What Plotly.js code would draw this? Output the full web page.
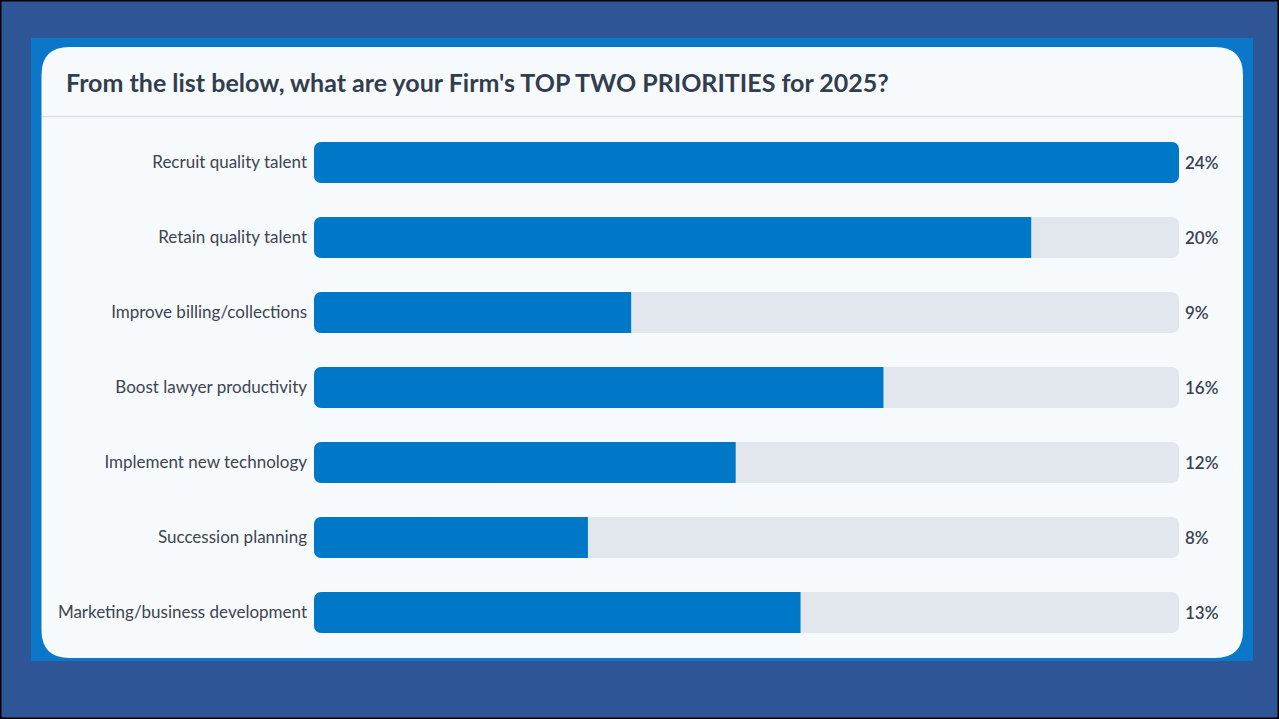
<!DOCTYPE html>
<html>
<head>
<meta charset="utf-8">
<script src="https://cdn.plot.ly/plotly-3.0.1.min.js"></script>
<style>
html,body{margin:0;padding:0;background:#2E5596;}
#chart{width:1279px;height:719px;}
</style>
</head>
<body>
<div id="chart"></div>
<script>
// Data
const categories = [
  "Recruit quality talent",
  "Retain quality talent",
  "Improve billing/collections",
  "Boost lawyer productivity",
  "Implement new technology",
  "Succession planning",
  "Marketing/business development"
];
const values = [24, 19.9, 8.8, 15.8, 11.7, 7.6, 13.5];      // bar lengths (%)
const valueLabels = ["24%", "20%", "9%", "16%", "12%", "8%", "13%"];
const scaleMax = 24;
const titleText = "From the list below, what are your Firm's TOP TWO PRIORITIES for 2025?";

const W = 1279, H = 719;
const px = x => x / W;
const py = y => 1 - y / H;

function roundedRect(x0, y0, x1, y1, r) {
  const X = px, Y = py;
  return `M ${X(x0 + r)} ${Y(y0)} L ${X(x1 - r)} ${Y(y0)} Q ${X(x1)} ${Y(y0)} ${X(x1)} ${Y(y0 + r)} ` +
         `L ${X(x1)} ${Y(y1 - r)} Q ${X(x1)} ${Y(y1)} ${X(x1 - r)} ${Y(y1)} ` +
         `L ${X(x0 + r)} ${Y(y1)} Q ${X(x0)} ${Y(y1)} ${X(x0)} ${Y(y1 - r)} ` +
         `L ${X(x0)} ${Y(y0 + r)} Q ${X(x0)} ${Y(y0)} ${X(x0 + r)} ${Y(y0)} Z`;
}

const FONT = "Lato, 'Open Sans', sans-serif";
const GRAY = "#E2E7EE", BLUE = "#0078C8";
const BW = 41 / 75, R = 7;

// Each bar is drawn as two overlapping halves so both ends can be rounded
// (Plotly rounds only the end away from the base).
function leftHalf(vals, color) {
  return {
    type: "bar", orientation: "h", y: categories,
    base: vals.map(v => v * 0.6), x: vals.map(v => -v * 0.6),
    marker: {color: color, cornerradius: R, line: {width: 0}}, width: BW,
    hoverinfo: "skip", showlegend: false
  };
}
function rightHalf(vals, color, rounded) {
  return {
    type: "bar", orientation: "h", y: categories,
    base: vals.map(v => v * 0.4), x: vals.map(v => v * 0.6),
    marker: {color: color, cornerradius: rounded ? R : 0, line: {width: 0}}, width: BW,
    hoverinfo: "skip", showlegend: false
  };
}
const fullVals = categories.map(() => scaleMax);
const isFull = values.map(v => v >= scaleMax);
const traces = [
  leftHalf(fullVals, GRAY),
  rightHalf(fullVals, GRAY, true),
  leftHalf(values, BLUE),
  rightHalf(values.map((v, i) => isFull[i] ? 0 : v), BLUE, false),
  rightHalf(values.map((v, i) => isFull[i] ? v : 0), BLUE, true)
];

const annotations = categories.map((c, i) => ({
  x: scaleMax, y: c, xref: "x", yref: "y",
  text: valueLabels[i], showarrow: false,
  xanchor: "left", xshift: 4,
  font: {family: FONT, size: 17, color: "#3A4250", weight: 600}
}));
annotations.push({
  x: px(64), y: py(82), xref: "paper", yref: "paper",
  xanchor: "left", yanchor: "middle", showarrow: false,
  text: titleText,
  font: {family: FONT, size: 25, color: "#323D4D", weight: 700}
});

const layout = {
  width: W, height: H,
  margin: {l: 0, r: 0, t: 0, b: 0},
  paper_bgcolor: "#2E5596",
  plot_bgcolor: "rgba(0,0,0,0)",
  barmode: "overlay",
  showlegend: false,
  xaxis: {
    domain: [px(314), px(1179)],
    range: [0, scaleMax],
    showgrid: false, zeroline: false, showticklabels: false, fixedrange: true
  },
  yaxis: {
    domain: [py(650), py(125)],
    autorange: "reversed",
    showgrid: false, zeroline: false,
    ticks: "", ticklabelstandoff: 6,
    tickfont: {family: FONT, size: 17, color: "#3D4450"},
    automargin: false, fixedrange: true
  },
  shapes: [
    {type: "rect", xref: "paper", yref: "paper", x0: px(31), x1: px(1253), y0: py(661), y1: py(38),
     fillcolor: "#0B77C9", line: {width: 0}, layer: "below"},
    {type: "path", xref: "paper", yref: "paper", path: roundedRect(41.5, 47, 1243, 658, 28),
     fillcolor: "#F7FAFD", line: {width: 0}, layer: "below"},
    {type: "line", xref: "paper", yref: "paper", x0: px(42), x1: px(1243), y0: py(116.5), y1: py(116.5),
     line: {color: "#DCE1E7", width: 1.5}, layer: "below"},
    {type: "rect", xref: "paper", yref: "paper", x0: 0, x1: 1, y0: 0, y1: 1,
     fillcolor: "rgba(0,0,0,0)", line: {color: "#000000", width: 3}, layer: "above"}
  ],
  annotations: annotations
};

Plotly.newPlot("chart", traces, layout, {displayModeBar: false, staticPlot: true});
</script>
</body>
</html>
